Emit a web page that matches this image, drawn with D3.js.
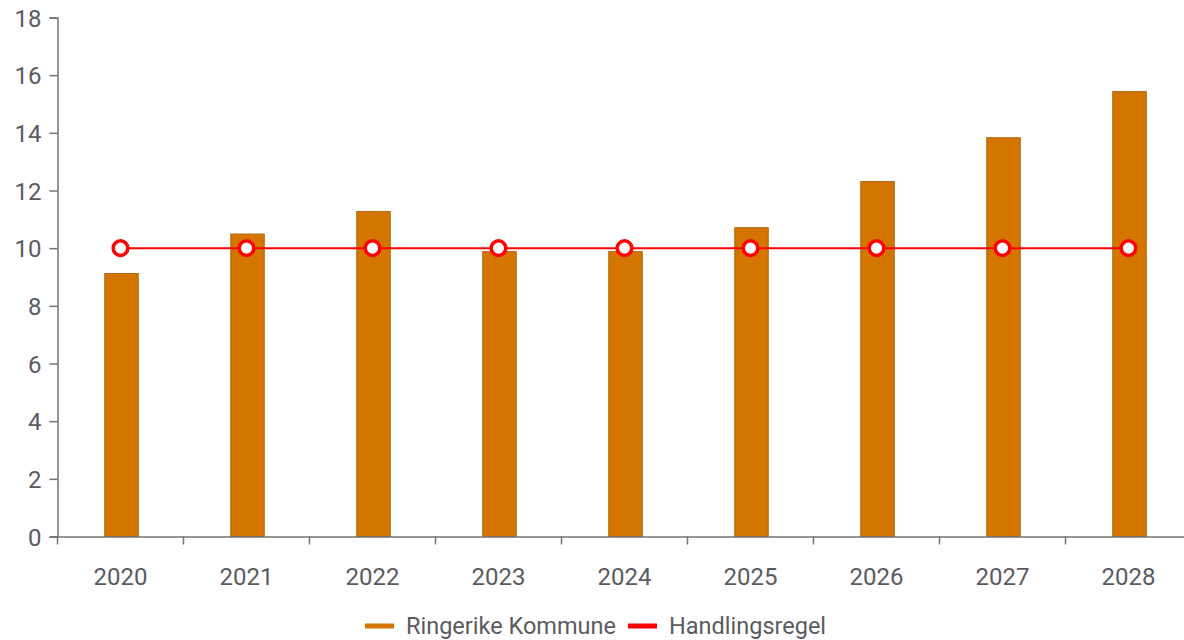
<!DOCTYPE html>
<html>
<head>
<meta charset="utf-8">
<script src="https://cdn.jsdelivr.net/npm/d3@7"></script>
<style>
  html, body { margin: 0; padding: 0; background: #fff; }
  svg { display: block; font-family: Roboto, "Noto Sans", sans-serif; }
</style>
</head>
<body>
<div id="chart"></div>
<script>
// chart data
const years = ['2020', '2021', '2022', '2023', '2024', '2025', '2026', '2027', '2028'];
const ringerike = [9.12, 10.49, 11.27, 9.88, 9.88, 10.71, 12.31, 13.83, 15.43];
const handlingsregel = [10, 10, 10, 10, 10, 10, 10, 10, 10];
const yTicks = [0, 2, 4, 6, 8, 10, 12, 14, 16, 18];
const seriesNames = ['Ringerike Kommune', 'Handlingsregel'];

const width = 1184;
const height = 640;
const margin = { top: 17.5, right: -7.5, bottom: 103.5, left: 57.5 };

const barFill = '#d47500';
const barStroke = '#b3650c';
const lineColor = '#ff0000';
const textColor = '#5b5b5f';
const axisColor = '#737373';
const fontSize = '24px';

const svg = d3.select('#chart')
    .append('svg')
    .attr('width', width)
    .attr('height', height);

const x = d3.scaleBand()
    .domain(years)
    .range([margin.left, width - margin.right])
    .paddingInner(0)
    .paddingOuter(0);

const y = d3.scaleLinear()
    .domain([0, 18])
    .range([height - margin.bottom, margin.top]);

const barW = 33.5;

// Bars
svg.selectAll('.bar')
    .data(years.map((d, i) => ({ year: d, value: ringerike[i] })))
    .enter()
    .append('rect')
    .attr('class', 'bar')
    .attr('x', d => x(d.year) + x.bandwidth() / 2 - barW / 2 + 1)
    .attr('y', d => y(d.value))
    .attr('width', barW)
    .attr('height', d => y(0) - y(d.value))
    .attr('fill', barFill)
    .attr('stroke', barStroke)
    .attr('stroke-width', 1);

// Y axis
const yAxis = svg.append('g')
    .attr('transform', `translate(${margin.left},0)`)
    .call(d3.axisLeft(y).tickValues(yTicks).tickSize(8).tickPadding(8).tickFormat(d3.format('d')));

// X axis
const xAxis = svg.append('g')
    .attr('transform', `translate(0,${y(0)})`)
    .call(d3.axisBottom(x).tickSize(0).tickPadding(31.5));

// boundary ticks between categories
xAxis.selectAll('.boundary')
    .data(years)
    .enter()
    .append('line')
    .attr('class', 'boundary')
    .attr('x1', d => x(d))
    .attr('x2', d => x(d))
    .attr('y1', 0)
    .attr('y2', 8)
    .attr('stroke', axisColor)
    .attr('stroke-width', 1.5);

[yAxis, xAxis].forEach(g => {
    g.select('.domain').attr('stroke', axisColor).attr('stroke-width', 1.5);
    g.selectAll('.tick line').attr('stroke', axisColor).attr('stroke-width', 1.5);
    g.selectAll('.tick text')
        .attr('fill', textColor)
        .attr('font-size', fontSize)
        .attr('font-family', 'Roboto, "Noto Sans", sans-serif');
});
yAxis.selectAll('.tick text').attr('dy', '0.36em');

// Handlingsregel line
const line = d3.line()
    .x((d, i) => x(years[i]) + x.bandwidth() / 2)
    .y(d => y(d));

svg.append('path')
    .datum(handlingsregel)
    .attr('d', line)
    .attr('fill', 'none')
    .attr('stroke', lineColor)
    .attr('stroke-width', 2);

svg.selectAll('.marker')
    .data(handlingsregel)
    .enter()
    .append('circle')
    .attr('class', 'marker')
    .attr('cx', (d, i) => x(years[i]) + x.bandwidth() / 2)
    .attr('cy', d => y(d))
    .attr('r', 7.3)
    .attr('fill', '#fff')
    .attr('stroke', lineColor)
    .attr('stroke-width', 3.5);

// Legend
const legend = svg.append('g').attr('class', 'legend');
const legendItems = [
    { name: seriesNames[0], color: barFill, x: 365 },
    { name: seriesNames[1], color: lineColor, x: 628 }
];
const legendY = 626;
legendItems.forEach(item => {
    legend.append('line')
        .attr('x1', item.x)
        .attr('x2', item.x + 29)
        .attr('y1', legendY)
        .attr('y2', legendY)
        .attr('stroke', item.color)
        .attr('stroke-width', 5);
    legend.append('text')
        .attr('x', item.x + 41)
        .attr('y', legendY)
        .attr('dy', '0.36em')
        .attr('fill', textColor)
        .attr('font-size', '23.5px')
        .text(item.name);
});
</script>
</body>
</html>
